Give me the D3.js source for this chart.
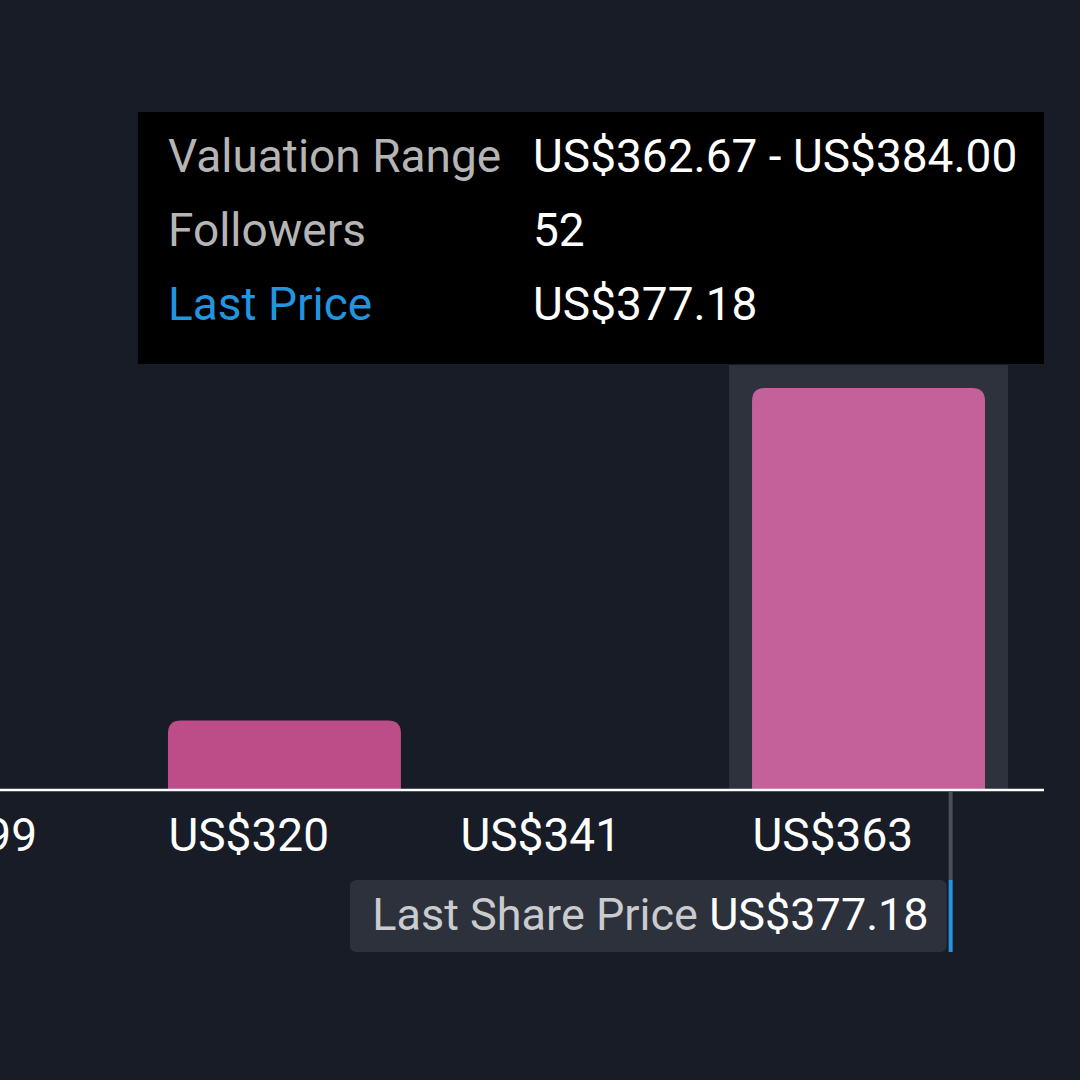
<!DOCTYPE html>
<html><head><meta charset="utf-8">
<script src="https://cdn.jsdelivr.net/npm/d3@7"></script>
<style>html,body{margin:0;padding:0;background:#171c26;overflow:hidden}svg{display:block;font-family:Roboto,"Noto Sans",sans-serif}</style>
</head><body>
<svg id="c" width="1080" height="1080"></svg>
<script>
const binStarts = [298.67, 320.00, 341.33, 362.67];
const binEnd = 384.00;
const followers = [0, 9, 0, 52];
const tickLabels = ["US$299", "US$320", "US$341", "US$363"];
const highlightIndex = 3;
const lastPrice = 377.18;
const tooltipRows = [
  ["Valuation Range", "US$362.67 - US$384.00"],
  ["Followers", "52"],
  ["Last Price", "US$377.18"]
];

const svg = d3.select("#c");
svg.append("rect").attr("width",1080).attr("height",1080).attr("fill","#171c26");

const x = d3.scaleLinear().domain([binStarts[0], binEnd]).range([-124, 1044]);
const y = d3.scaleLinear().domain([0, 52]).range([790, 388]);
const binW = x(binStarts[1]) - x(binStarts[0]);
const barW = binW * 0.798;

// highlight background
const hi = highlightIndex;
svg.append("rect")
  .attr("x", x(binStarts[hi]) - 23).attr("y", y(followers[hi]) - 23)
  .attr("width", barW + 46).attr("height", y(0) - y(followers[hi]) + 23)
  .attr("fill", "#2d323c");

function topRounded(x0, y0, w, h, r) {
  r = Math.min(r, h, w/2);
  return `M${x0},${y0+h}V${y0+r}Q${x0},${y0} ${x0+r},${y0}H${x0+w-r}Q${x0+w},${y0} ${x0+w},${y0+r}V${y0+h}Z`;
}

binStarts.forEach((b, i) => {
  if (!followers[i]) return;
  svg.append("path")
    .attr("d", topRounded(x(b), y(followers[i]), barW, y(0) - y(followers[i]), 13))
    .attr("fill", i === hi ? "#c4609a" : "#bc4d88");
});

// axis line
svg.append("line").attr("x1", 0).attr("x2", x(binEnd)).attr("y1", 790).attr("y2", 790)
  .attr("stroke", "#ffffff").attr("stroke-width", 2.5);

// tick labels
const axis = d3.axisBottom(x).tickValues(binStarts).tickFormat((d,i)=>tickLabels[i]).tickSize(0).tickPadding(0);
const ag = svg.append("g").attr("transform","translate(0,790)").call(axis);
ag.select(".domain").remove();
ag.selectAll("text").attr("text-anchor","start").attr("dy",null).attr("y",61)
  .attr("fill","#ffffff").style("font-size","46px").style("font-family","Roboto");

// last price marker
const lx = x(lastPrice);
svg.append("line").attr("x1",lx).attr("x2",lx).attr("y1",792).attr("y2",880)
  .attr("stroke","#4a4f58").attr("stroke-width",4);
svg.append("rect").attr("x",350).attr("y",880).attr("width",lx-350-4).attr("height",72)
  .attr("rx",6).attr("fill","#2c313b");
svg.append("line").attr("x1",lx).attr("x2",lx).attr("y1",880).attr("y2",952)
  .attr("stroke","#2394df").attr("stroke-width",4);
const lt = svg.append("text").attr("x",lx-22).attr("y",930).attr("text-anchor","end")
  .style("font-size","45px");
lt.append("tspan").attr("fill","#c9cbce").text("Last Share Price ");
lt.append("tspan").attr("fill","#ffffff").text("US$" + lastPrice.toFixed(2));

// tooltip
svg.append("rect").attr("x",138).attr("y",112).attr("width",906).attr("height",252).attr("fill","#000000");
tooltipRows.forEach((r, i) => {
  const by = 172 + i*74;
  svg.append("text").attr("x",168).attr("y",by).style("font-size","46px")
    .attr("fill", i === 2 ? "#2394df" : "#b5b5b5").text(r[0]);
  svg.append("text").attr("x",533).attr("y",by).style("font-size","46px")
    .attr("fill","#ffffff").text(r[1]);
});
</script>
</body></html>
